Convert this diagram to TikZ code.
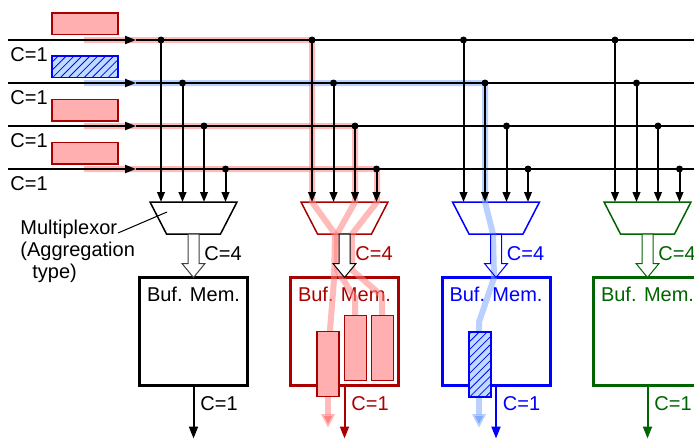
\documentclass[tikz,border=0pt]{standalone}
\usepackage{fontspec}
\setmainfont{Liberation Sans}
\usetikzlibrary{arrows.meta,patterns.meta,calc}
\definecolor{dred}{RGB}{170,0,0}
\definecolor{pkred}{RGB}{255,175,175}
\definecolor{pkblue}{RGB}{190,220,255}
\definecolor{dgreen}{RGB}{0,100,0}
\definecolor{bandred}{RGB}{255,130,130}
\definecolor{bandblue}{RGB}{130,170,255}
\begin{document}
\begin{tikzpicture}[x=0.5pt,y=-0.5pt,font=\fontsize{10}{10.8}\selectfont]
    \tikzset{bus/.style = {line width=1pt}, tap/.style = {line width=1pt,-{Triangle[length=5pt,width=3.8pt]}},
      muxbox/.style = {minimum width=43.5pt,minimum height=16pt,inner sep=0pt,outer sep=0pt},
      muxline/.style = {fill=white,line width=0.75pt,line join=miter},
      buf/.style = {draw,minimum width=54pt,minimum height=54pt,line width=1.5pt,inner sep=0pt,outer sep=0pt},
      redpkt/.style = {draw=dred,fill=pkred,line width=0.75pt,inner sep=0pt},
      bluepkt/.style = {draw=blue,fill=pkblue,line width=0.75pt,inner sep=0pt,postaction={pattern={Lines[angle=45,distance=2.8pt,line width=0.4pt]},pattern color=blue}},
      inpkt/.style = {minimum width=33pt,minimum height=10.75pt},
      bufpkt/.style = {minimum width=11pt,minimum height=32.5pt},
      band/.style = {line width=3pt,draw opacity=0.55,line join=round},
      hollow/.style = {line width=0.5pt},
      outarrow/.style = {line width=1pt,-{Triangle[length=6pt,width=4.5pt]}}}
    \clip (0,0) rectangle (694,439);
    % muxes and buffers
    \foreach \m/\tx/\col in {1/161/black,2/312/dred,3/463.5/blue,4/615/dgreen}{
      \pgfmathsetmacro\cx{\tx+32.5}
      \node[muxbox] (mux\m) at (\cx,218) {};
      \draw[muxline,draw=\col] (mux\m.north west) -- (mux\m.north east) -- ($(mux\m.south east)+(-16.5,0)$) -- ($(mux\m.south west)+(16.5,0)$) -- cycle;
      \node[buf,draw=\col] (buf\m) at (\cx,331.5) {};
      \node[text=\col,anchor=north,inner sep=0pt] (bt\m) at ($(buf\m.north)+(0,9)$) {Buf. Mem.};
    }
    % highlighted paths
    \draw[band,draw=bandred] (84,40) -- (312,40) -- (312,202) -- (335,234) -- (334,280) -- (330,330) -- (328,360);
    \draw[band,draw=bandred,-{Triangle[length=7pt,width=6.5pt]}] (328,360) -- (328,428);
    \draw[band,draw=bandred] (84,126) -- (355,126) -- (355,202) -- (337,234) -- (337,270) -- (355,298) -- (355,318);
    \draw[band,draw=bandred] (84,169) -- (377,169) -- (377,202) -- (352,234) -- (352,270) -- (382,296) -- (382,318);
    \draw[band,draw=bandblue] (84,83) -- (485,83) -- (485,202) -- (493,234) -- (494,278) -- (479,322) -- (479,360);
    \draw[band,draw=bandblue,-{Triangle[length=7pt,width=6.5pt]}] (479,360) -- (479,428);
    % packets in the buffers
    \node[redpkt,bufpkt] (p21) at (328,364) {};
    \node[redpkt,bufpkt] (p22) at (355.5,348) {};
    \node[redpkt,bufpkt] (p23) at (382.5,348) {};
    \node[bluepkt,bufpkt] (p31) at (480,364.3) {};
    % bus lines
    \foreach \k/\yy in {0/40,1/83,2/126,3/169}{
      \coordinate (bs\k) at (8,\yy);
      \coordinate (ba\k) at (136,\yy);
      \coordinate (be\k) at (700,\yy);
      \draw[bus,-{Triangle[length=5.5pt,width=4pt]}] (bs\k) -- (ba\k);
      \draw[bus] (ba\k) -- (be\k);
      \node[anchor=west,inner sep=0pt] (cl\k) at (10,\yy+15) {C=1};
    }
    % taps, aggregation arrows, outputs
    \foreach \m/\tx/\col/\hcol/\hfill in {1/161/black/black!75/white,2/312/dred/black/white,3/463.5/blue/blue/none,4/615/dgreen/dgreen/white}{
      \foreach \k/\yy in {0/40,1/83,2/126,3/169}{
        \pgfmathsetmacro\tt{\tx+21.5*\k}
        \coordinate (t\m\k) at (\tt,\yy);
        \fill (t\m\k) circle (1.75pt);
        \draw[tap] (t\m\k) -- (t\m\k |- mux\m.north);
      }
      \draw[hollow,draw=\hcol,fill=\hfill] ($(mux\m.south)+(-5.5,0)$) -- ($(buf\m.north)+(-5.5,-14)$) -- ($(buf\m.north)+(-11.5,-14)$) -- (buf\m.north)
        -- ($(buf\m.north)+(11.5,-14)$) -- ($(buf\m.north)+(5.5,-14)$) -- ($(mux\m.south)+(5.5,0)$) -- cycle;
      \node[text=\col,anchor=west,inner sep=0pt] (c4\m) at ($(mux\m.south)+(10.5,20)$) {C=4};
      \coordinate (out\m) at ($(buf\m.south)+(0,53)$);
      \draw[outarrow,draw=\col,fill=\col] (buf\m.south) -- (out\m);
      \node[text=\col,anchor=west,inner sep=0pt] (c1\m) at ($(buf\m.south)+(6.5,18.5)$) {C=1};
    }
    % input packets
    \node[redpkt,inpkt] (in0) at (85,23.5) {};
    \node[bluepkt,inpkt] (in1) at (85,66.8) {};
    \node[redpkt,inpkt] (in2) at (85,110.2) {};
    \node[redpkt,inpkt] (in3) at (85,153.4) {};
    % label of the multiplexor
    \node[align=left,anchor=north west,inner sep=0pt] (mlab) at (20,220) {Multiplexor\\(Aggregation\\\hspace*{6pt}type)};
    \coordinate (ldr) at (118,233);
    \draw[line width=0.5pt] (ldr) -- ($(mux1.center)+(-26.5,-6)$);
\end{tikzpicture}
\end{document}
